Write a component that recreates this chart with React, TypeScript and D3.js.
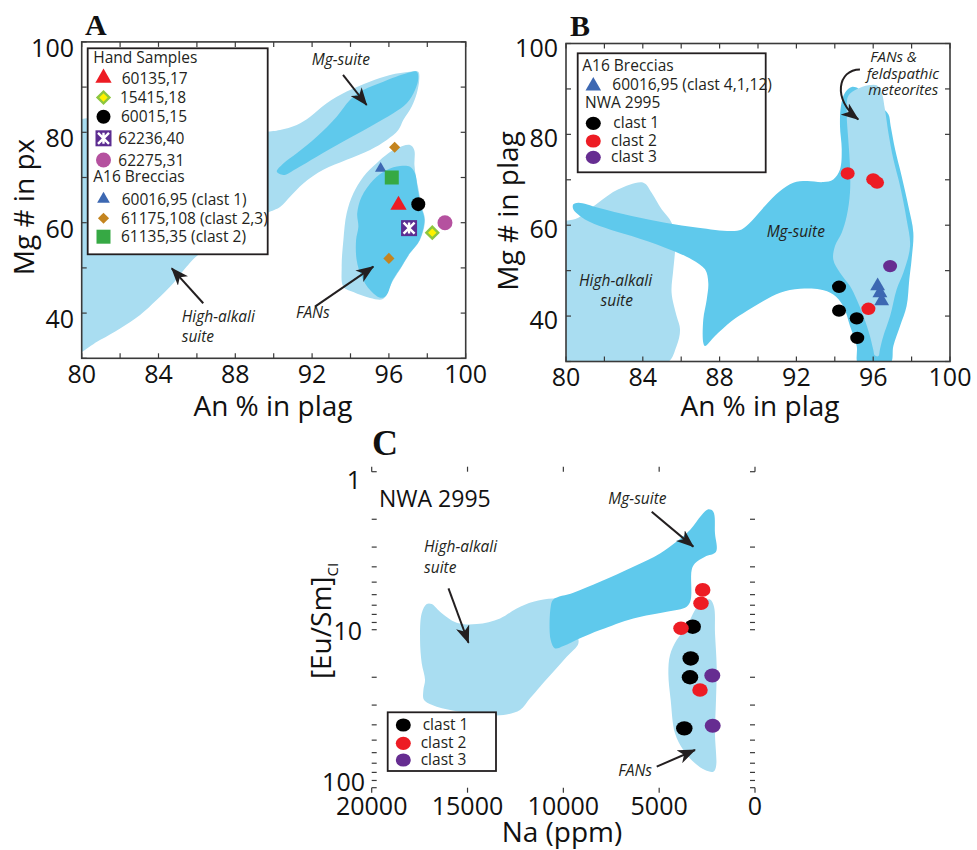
import React from 'react';
import * as d3 from 'd3';

type XY = [number, number];

const FONT = '"Open Sans", "Noto Sans", "Liberation Sans", sans-serif';
const SERIF = '"Liberation Serif", "DejaVu Serif", serif';
const INK = '#231f20';
const LIGHT = '#a9ddf1';
const DARK = '#5fc9ec';

// ---------------- Panel A : Mg# in px vs An % in plag ----------------
const aXLabels = [80, 84, 88, 92, 96, 100];
const aYLabels = [40, 60, 80, 100];

// high-alkali swath merged with the light Mg-suite envelope
const aHighAlkaliField: XY[] = [
  [79.3, 81.3], [85, 80.8], [89.55, 80.13], [90.33, 80.5], [91.2, 81.6], [91.9, 83.45],
  [92.76, 86.4], [93.8, 89.0], [95.0, 91.2], [96.06, 92.7], [97.1, 93.4], [97.53, 93.4],
  [97.58, 91.6], [97.45, 88.6], [97.19, 85.7], [96.75, 82.7], [96.49, 80.5], [95.89, 78.3],
  [95.02, 76.1], [93.8, 73.9], [92.58, 71.7], [91.54, 68.7], [90.85, 65.75], [90.33, 63.5],
  [89.64, 62.1], [86.16, 53.2], [85.47, 50.3], [84.77, 46.6], [83.9, 42.9], [83.04, 39.6],
  [82.0, 36.6], [80.95, 34.05], [79.3, 30.8],
];
const aMgSuiteCore: XY[] = [
  [90.16, 71.3], [90.5, 73.1], [91.2, 75.35], [92.24, 79.0], [93.28, 83.45], [93.97, 87.15],
  [94.67, 89.36], [95.71, 91.2], [96.93, 93.05], [97.45, 93.4], [97.53, 91.95], [97.36, 89.36],
  [96.93, 86.4], [96.23, 84.2], [95.02, 81.24], [93.6, 77.9], [92.24, 74.6], [91.2, 72.0],
  [90.5, 70.55],
];
const aFanField: XY[] = [
  [96.41, 76.46], [97.1, 77.19], [97.32, 76.1], [97.33, 72.77], [97.41, 70.1], [97.53, 67.66],
  [97.71, 63.54], [97.88, 60.6], [97.62, 56.2], [97.1, 53.23], [96.67, 50.27], [96.23, 47.3],
  [95.97, 45.1], [95.69, 43.1], [95.02, 43.35], [94.15, 44.67], [93.63, 45.84], [93.54, 50.27],
  [93.63, 56.2], [93.8, 62.08], [94.15, 66.5], [94.67, 70.18], [95.36, 73.14], [95.97, 75.35],
];
const aFanCore: XY[] = [
  [95.19, 69.45], [95.89, 71.66], [96.58, 72.54], [97.1, 72.39], [97.36, 70.93], [97.5, 67.5],
  [97.68, 63.54], [97.85, 60.6], [97.6, 56.2], [97.08, 53.23], [96.65, 50.27], [96.2, 47.3],
  [95.85, 43.8], [95.54, 43.4], [95.02, 45.1], [94.58, 48.05], [94.32, 51.75], [94.29, 56.2],
  [94.41, 59.12], [94.35, 62.08], [94.58, 65.75],
];

const a60135_17: XY[] = [[96.5, 63.9]];
const a15415_18: XY[] = [[98.26, 57.8]];
const a60015_15: XY[] = [[97.53, 64.1]];
const a62236_40: XY[] = [[97.05, 58.8]];
const a62275_31: XY[] = [[98.92, 60.0]];
const a60016_95: XY[] = [[95.57, 72.0]];
const a61175_108: XY[] = [[96.3, 76.7], [96.0, 52.1]];
const a61135_35: XY[] = [[96.15, 70.0]];

// ---------------- Panel B : Mg# in plag vs An % in plag ----------------
const bXLabels = [80, 84, 88, 92, 96, 100];
const bYLabels = [40, 60, 80, 100];

const bHighAlkaliField: XY[] = [
  [79.5, 59.8], [80.64, 61.65], [81.68, 64.95], [82.73, 67.9], [84.03, 69.36], [84.46, 67.16],
  [84.98, 63.49], [85.5, 60.55], [85.68, 55.4], [85.59, 50.28], [85.5, 45.14], [85.76, 40.0],
  [85.94, 37.06], [85.76, 33.4], [85.2, 29.5], [79.5, 29.5],
];
const bMgSuiteField: XY[] = [
  [80.38, 64.59], [80.64, 64.95], [81.68, 63.85], [83.42, 62.02], [85.16, 60.55], [86.89, 59.45],
  [88.63, 58.72], [89.15, 59.08], [89.67, 60.92], [90.36, 64.22], [91.15, 67.52], [91.84, 69.36],
  [92.53, 69.72], [93.4, 69.5], [93.92, 70.09], [94.27, 72.29], [94.36, 76.7], [94.27, 81.83],
  [94.32, 86.24], [94.53, 89.17], [94.88, 90.42], [95.23, 90.06], [95.49, 88.44], [96.35, 86.24],
  [96.79, 84.4], [96.91, 81.83], [97.14, 76.7], [97.48, 70.83], [97.83, 64.22], [98.09, 58.35],
  [98.0, 52.48], [97.88, 48.07], [97.74, 42.2], [97.4, 37.8], [97.05, 33.39], [96.88, 29.5],
  [95.23, 29.5], [95.14, 33.39], [94.79, 37.8], [94.44, 42.2], [93.92, 44.77], [93.23, 45.87],
  [92.19, 46.0], [91.15, 45.14], [90.28, 43.3], [89.41, 41.1], [88.63, 38.9], [87.76, 35.6],
  [87.24, 33.39], [87.15, 34.13], [87.15, 39.27], [87.33, 43.67], [87.41, 47.34], [87.24, 50.28],
  [86.55, 52.48], [85.16, 55.05], [83.42, 57.61], [82.03, 59.45], [80.99, 61.28], [80.38, 63.49],
];
const bFanField: XY[] = [
  [94.7, 88.44], [95.14, 89.91], [95.75, 90.79], [96.18, 90.79], [96.44, 89.17], [96.61, 85.5],
  [96.79, 80.37], [97.05, 74.5], [97.4, 68.62], [97.74, 61.28], [97.92, 55.41], [97.57, 49.54],
  [97.22, 45.87], [96.88, 40.0], [96.53, 35.6], [96.35, 32.66], [96.27, 31.19], [96.09, 31.3],
  [96.0, 32.66], [95.83, 35.6], [95.49, 40.0], [95.14, 43.67], [94.79, 46.61], [94.27, 49.54],
  [93.92, 52.48], [94.01, 55.41], [94.36, 58.35], [94.62, 62.02], [94.79, 67.16], [94.79, 73.03],
  [94.7, 78.9], [94.62, 84.77],
];

const b60016_95: XY[] = [[96.23, 46.6], [96.35, 45.1], [96.44, 43.3]];
const bClast1: XY[] = [[94.22, 46.45], [94.22, 41.2], [95.14, 39.5], [95.17, 35.2]];
const bClast2: XY[] = [[94.67, 71.4], [96.0, 70.1], [96.2, 69.4], [95.75, 41.6]];
const bClast3: XY[] = [[96.88, 51.0]];

// ---------------- Panel C : [Eu/Sm]CI vs Na (ppm) ----------------
const cXLabels = [20000, 15000, 10000, 5000, 0];
const cYLabels = [1, 10, 100];

const cHighAlkaliField: XY[] = [
  [17390, 7.88], [17129, 6.88], [16868, 6.88], [16434, 7.69], [15564, 9.03], [14521, 9.21],
  [13303, 8.48], [12434, 7.33], [11564, 6.65], [10521, 6.34], [9825, 6.49], [9304, 10.55],
  [9217, 12.21], [9825, 14.83], [10521, 18.45], [11217, 22.95], [11738, 27.2], [12260, 32.25],
  [13129, 34.68], [13999, 34.68], [15390, 33.0], [16608, 30.7], [17268, 27.87], [17303, 24.09],
  [17216, 20.83], [17390, 16.33], [17477, 11.63],
];
const cMgSuiteField: XY[] = [
  [10660, 7.15], [10521, 6.43], [9478, 5.83], [8086, 4.97], [6347, 3.99], [4956, 3.29],
  [4087, 2.77], [3391, 2.34], [2782, 1.88], [2435, 1.73], [2174, 1.79], [2087, 2.46],
  [2035, 3.21], [2609, 3.45], [3130, 3.8], [3304, 4.19], [3356, 6.49], [3565, 7.15],
  [4608, 7.69], [6347, 8.48], [8086, 10.05], [9130, 11.34], [9999, 12.69], [10434, 13.13],
  [10660, 11.63],
];
const cFanField: XY[] = [
  [4434, 14.47], [4087, 11.63], [3565, 9.57], [3130, 7.51], [2782, 6.65], [2348, 6.43],
  [2139, 7.15], [2087, 10.55], [2000, 17.15], [2035, 27.87], [2087, 45.3], [2035, 73.6],
  [2174, 79.2], [2609, 77.3], [3130, 70.1], [3739, 57.8], [4174, 45.3], [4400, 27.87],
  [4521, 18.9],
];

const cClast1: XY[] = [[3251, 9.57], [3355, 15.2], [3392, 20.0], [3689, 42.1]];
const cClast2: XY[] = [[2729, 5.6], [2818, 6.8], [3861, 9.8], [2870, 24.1]];
const cClast3: XY[] = [[2228, 19.5], [2207, 40.5]];

// ---------------- scales ----------------
const xA = d3.scaleLinear().domain([80, 100]).range([81.7, 465.7]);
const yA = d3.scaleLinear().domain([30, 100]).range([358.3, 41.9]);
const xB = d3.scaleLinear().domain([80, 100]).range([566, 950]);
const yB = d3.scaleLinear().domain([30, 100]).range([361.5, 43.5]);
const xC = d3.scaleLinear().domain([20000, 0]).range([371.7, 755]);
const yC = d3.scaleLog().domain([1, 100]).range([471.7, 787.7]);

type Mk = { shape: 'circle' | 'triangle' | 'square' | 'diamond' | 'star'; fill: string; size: number; ry?: number; stroke?: string; sw?: number };

const mkRed: Mk = { shape: 'triangle', fill: '#ed1c24', size: 115 };
const mkYellow: Mk = { shape: 'diamond', fill: '#fff200', stroke: '#8dc63f', sw: 2.4, size: 70 };
const mkBlack: Mk = { shape: 'circle', fill: '#000', size: 14 };
const mkStar: Mk = { shape: 'star', fill: '#5c2d91', size: 16 };
const mkPink: Mk = { shape: 'circle', fill: '#b5519f', size: 15 };
const mkBlueSmall: Mk = { shape: 'triangle', fill: '#3d68b2', size: 55 };
const mkBrown: Mk = { shape: 'diamond', fill: '#c4841f', size: 62 };
const mkGreen: Mk = { shape: 'square', fill: '#36a944', size: 196 };
const mkBlue: Mk = { shape: 'triangle', fill: '#3d68b2', size: 95 };
const mkC1: Mk = { shape: 'circle', fill: '#000', size: 15, ry: 6.6 };
const mkC2: Mk = { shape: 'circle', fill: '#ed1c24', size: 15, ry: 6.6 };
const mkC3: Mk = { shape: 'circle', fill: '#662d91', size: 15, ry: 6.6 };

function Mark({ m, cx, cy }: { m: Mk; cx: number; cy: number }) {
  const t = `translate(${cx},${cy})`;
  if (m.shape === 'circle') return <ellipse cx={cx} cy={cy} rx={m.size / 2} ry={m.ry ?? m.size / 2} fill={m.fill} />;
  if (m.shape === 'triangle') return <path transform={t} d={d3.symbol(d3.symbolTriangle, m.size)() || ''} fill={m.fill} />;
  if (m.shape === 'square') return <path transform={t} d={d3.symbol(d3.symbolSquare, m.size)() || ''} fill={m.fill} />;
  if (m.shape === 'diamond')
    return <path transform={`${t} rotate(45)`} d={d3.symbol(d3.symbolSquare, m.size)() || ''} fill={m.fill} stroke={m.stroke} strokeWidth={m.sw} />;
  const h = m.size / 2;
  const k = h - 2.5;
  return (
    <g transform={t}>
      <rect x={-h} y={-h} width={m.size} height={m.size} fill={m.fill} />
      <path d={`M0,${-k}V${k}M${-k},${-k}L${k},${k}M${-k},${k}L${k},${-k}`} stroke="#fff" strokeWidth={2.4} />
    </g>
  );
}

function Field({ pts, x, y, fill }: { pts: XY[]; x: any; y: any; fill: string }) {
  const line = d3.line<XY>().x(d => x(d[0])).y(d => y(d[1])).curve(d3.curveCatmullRomClosed.alpha(0.5));
  return <path d={line(pts) || ''} fill={fill} />;
}

function Points({ pts, x, y, m }: { pts: XY[]; x: any; y: any; m: Mk }) {
  return <g>{pts.map((p, i) => <Mark key={i} m={m} cx={x(p[0])} cy={y(p[1])} />)}</g>;
}

function Frame({ x, y, xt, yt, len = 5 }: { x: any; y: any; xt: number[]; yt: number[]; len?: number }) {
  const [l, r] = x.range();
  const [b, t] = y.range();
  return (
    <g stroke="#3a3a3a" strokeWidth={1.2}>
      {xt.map(v => (
        <g key={'x' + v}>
          <line x1={x(v)} x2={x(v)} y1={b} y2={b - len} />
          <line x1={x(v)} x2={x(v)} y1={t} y2={t + len} />
        </g>
      ))}
      {yt.map(v => (
        <g key={'y' + v}>
          <line x1={l} x2={l + len} y1={y(v)} y2={y(v)} />
          <line x1={r} x2={r - len} y1={y(v)} y2={y(v)} />
        </g>
      ))}
      <rect x={l} y={t} width={r - l} height={b - t} fill="none" strokeWidth={1.6} />
    </g>
  );
}

function Arrow({ d }: { d: string }) {
  return <path d={d} fill="none" stroke={INK} strokeWidth={2} markerEnd="url(#head)" />;
}

const seg = (x: any, y: any, p: XY[]) => `M${x(p[0][0])},${y(p[0][1])}L${x(p[1][0])},${y(p[1][1])}`;

function Note({ x, y, text, size = 15.5 }: { x: number; y: number; text: string; size?: number }) {
  return (
    <text x={x} y={y} fontSize={size} fontStyle="italic" fill={INK} fontFamily={FONT}>
      {text}
    </text>
  );
}

function PanelA() {
  const legendRows: [Mk, string, number, number][] = [
    [mkRed, '60135,17', 78, 121.7],
    [mkYellow, '15415,18', 97.5, 120],
    [mkBlack, '60015,15', 116.7, 121],
    [mkStar, '62236,40', 138.3, 118.3],
    [mkPink, '62275,31', 160, 118.3],
    [{ ...mkBlueSmall, size: 70 }, '60016,95 (clast 1)', 199, 121.7],
    [mkBrown, '61175,108 (clast 2,3)', 218.3, 121],
    [mkGreen, '61135,35 (clast 2)', 236.7, 121],
  ];
  return (
    <g>
      <defs>
        <clipPath id="clipA"><rect x={81.7} y={41.9} width={384} height={316.4} /></clipPath>
      </defs>
      <g clipPath="url(#clipA)">
        <Field pts={aHighAlkaliField} x={xA} y={yA} fill={LIGHT} />
        <Field pts={aMgSuiteCore} x={xA} y={yA} fill={DARK} />
        <Field pts={aFanField} x={xA} y={yA} fill={LIGHT} />
        <Field pts={aFanCore} x={xA} y={yA} fill={DARK} />
      </g>
      <Points pts={a60016_95} x={xA} y={yA} m={mkBlueSmall} />
      <Points pts={a61175_108} x={xA} y={yA} m={mkBrown} />
      <Points pts={a61135_35} x={xA} y={yA} m={mkGreen} />
      <Points pts={a60135_17} x={xA} y={yA} m={mkRed} />
      <Points pts={a60015_15} x={xA} y={yA} m={mkBlack} />
      <Points pts={a62236_40} x={xA} y={yA} m={mkStar} />
      <Points pts={a15415_18} x={xA} y={yA} m={mkYellow} />
      <Points pts={a62275_31} x={xA} y={yA} m={mkPink} />

      <Frame x={xA} y={yA} xt={d3.range(80, 101, 2)} yt={d3.range(30, 101, 10)} />

      <Note x={xA(91.98)} y={yA(94.9)} text="Mg-suite" />
      <Note x={xA(85.21)} y={yA(38.1)} text="High-alkali" />
      <Note x={xA(85.21)} y={yA(33.67)} text="suite" />
      <Note x={xA(91.16)} y={yA(38.92)} text="FANs" />
      <Arrow d={seg(xA, yA, [[93.61, 92.68], [94.84, 86.04]])} />
      <Arrow d={seg(xA, yA, [[86.33, 42.17], [84.69, 49.9]])} />
      <Arrow d={seg(xA, yA, [[92.15, 41.42], [95.19, 50.27]])} />

      {/* legend */}
      <rect x={87.7} y={48.3} width={180} height={206} fill="#fff" stroke={INK} strokeWidth={1.8} />
      <g fontFamily={FONT} fontSize={15.5} fill={INK}>
        <text x={93.3} y={63.3}>Hand Samples</text>
        <text x={93.3} y={182.3}>A16 Breccias</text>
        {legendRows.map(([m, label, cy, tx]) => (
          <g key={label}>
            <Mark m={m} cx={103.5} cy={cy} />
            <text x={tx} y={cy + 5.6}>{label}</text>
          </g>
        ))}
      </g>

      {/* axes text */}
      <g fontFamily={FONT} fontSize={25} fill="#111">
        {aXLabels.map(v => <text key={v} x={xA(v)} y={383} textAnchor="middle">{v}</text>)}
        {aYLabels.map(v => <text key={v} x={74} y={yA(v) + 15} textAnchor="end">{v}</text>)}
        <text x={273} y={416} textAnchor="middle" fontSize={28}>An % in plag</text>
        <text transform="translate(34,207) rotate(-90)" textAnchor="middle" fontSize={28}>Mg # in px</text>
      </g>
      <text x={85} y={35} fontFamily={SERIF} fontWeight="bold" fontSize={30} fill="#111">A</text>
    </g>
  );
}

function PanelB() {
  const p = d3.path();
  p.moveTo(xB(95.31), yB(94.3));
  p.bezierCurveTo(xB(94.16), yB(94.3), xB(93.85), yB(87.7), xB(95.22), yB(83.3));
  return (
    <g>
      <defs>
        <clipPath id="clipB"><rect x={566} y={43.5} width={384} height={318} /></clipPath>
      </defs>
      <g clipPath="url(#clipB)">
        <Field pts={bHighAlkaliField} x={xB} y={yB} fill={LIGHT} />
        <Field pts={bMgSuiteField} x={xB} y={yB} fill={DARK} />
        <Field pts={bFanField} x={xB} y={yB} fill={LIGHT} />
      </g>
      <Points pts={b60016_95} x={xB} y={yB} m={mkBlue} />
      <Points pts={bClast1} x={xB} y={yB} m={{ ...mkC1, size: 14, ry: 6.2 }} />
      <Points pts={bClast2} x={xB} y={yB} m={{ ...mkC2, size: 14, ry: 6.2 }} />
      <Points pts={bClast3} x={xB} y={yB} m={{ ...mkC3, size: 14, ry: 6.2 }} />

      <Frame x={xB} y={yB} xt={d3.range(80, 101, 2)} yt={d3.range(30, 101, 10)} />

      <Note x={xB(95.85)} y={yB(96.0)} text="FANs &" size={15} />
      <Note x={xB(95.66)} y={yB(92.2)} text="feldspathic" size={15} />
      <Note x={xB(95.74)} y={yB(88.6)} text="meteorites" size={15} />
      <Arrow d={p.toString()} />
      <Note x={xB(90.45)} y={yB(57.5)} text="Mg-suite" />
      <Note x={xB(80.68)} y={yB(46.6)} text="High-alkali" />
      <Note x={xB(81.8)} y={yB(42.2)} text="suite" />

      {/* legend */}
      <rect x={577.7} y={53.3} width={188} height={119} fill="#fff" stroke={INK} strokeWidth={1.8} />
      <g fontFamily={FONT} fontSize={15.5} fill={INK}>
        <text x={582.3} y={71}>A16 Breccias</text>
        <Mark m={{ ...mkBlue, size: 105 }} cx={593.3} cy={86} />
        <text x={612.3} y={90}>60016,95 (clast 4,1,12)</text>
        <text x={585} y={107.7}>NWA 2995</text>
        <Mark m={mkC1} cx={593.3} cy={123.3} />
        <text x={613.3} y={128.3}>clast 1</text>
        <Mark m={mkC2} cx={593.3} cy={141} />
        <text x={611} y={146}>clast 2</text>
        <Mark m={mkC3} cx={593.3} cy={157.3} />
        <text x={611} y={162.3}>clast 3</text>
      </g>

      <g fontFamily={FONT} fontSize={25} fill="#111">
        {bXLabels.map(v => <text key={v} x={xB(v)} y={386} textAnchor="middle">{v}</text>)}
        {bYLabels.map(v => <text key={v} x={558} y={yB(v) + 13} textAnchor="end">{v}</text>)}
        <text x={760} y={416} textAnchor="middle" fontSize={28}>An % in plag</text>
        <text transform="translate(518,211) rotate(-90)" textAnchor="middle" fontSize={28}>Mg # in plag</text>
      </g>
      <text x={570} y={36} fontFamily={SERIF} fontWeight="bold" fontSize={30} fill="#111">B</text>
    </g>
  );
}

function PanelC() {
  const yLabelPos: Record<number, [number, number]> = { 1: [361, 489], 10: [362, 640], 100: [365, 791] };
  return (
    <g>
      <defs>
        <clipPath id="clipC"><rect x={371.7} y={471.7} width={383.3} height={316} /></clipPath>
      </defs>
      <g clipPath="url(#clipC)">
        <Field pts={cHighAlkaliField} x={xC} y={yC} fill={LIGHT} />
        <Field pts={cMgSuiteField} x={xC} y={yC} fill={DARK} />
        <Field pts={cFanField} x={xC} y={yC} fill={LIGHT} />
      </g>
      <Points pts={cClast1} x={xC} y={yC} m={{ ...mkC1, size: 16.5, ry: 7.2 }} />
      <Points pts={cClast2} x={xC} y={yC} m={{ ...mkC2, size: 15.5, ry: 6.8 }} />
      <Points pts={cClast3} x={xC} y={yC} m={{ ...mkC3, size: 16, ry: 7 }} />

      <Frame x={xC} y={yC} xt={d3.range(0, 20001, 5000)} yt={yC.ticks()} />

      <text x={xC(19617)} y={yC(1.665)} fontFamily={FONT} fontSize={23} fill="#111">NWA 2995</text>
      <Note x={xC(7655)} y={yC(1.6)} text="Mg-suite" />
      <Note x={xC(17270)} y={yC(3.21)} text="High-alkali" />
      <Note x={xC(17270)} y={yC(4.36)} text="suite" />
      <Note x={xC(7133)} y={yC(84.3)} text="FANs" />
      <Arrow d={seg(xC, yC, [[5390, 1.79], [3220, 2.98]])} />
      <Arrow d={seg(xC, yC, [[15994, 5.47], [14950, 12.1]])} />
      <Arrow d={seg(xC, yC, [[5129, 73.6], [3131, 57.7]])} />

      {/* legend */}
      <rect x={387.7} y={712.3} width={108.3} height={58.7} fill="#fff" stroke={INK} strokeWidth={1.8} />
      <g fontFamily={FONT} fontSize={15.5} fill={INK}>
        <Mark m={mkC1} cx={403.3} cy={725} />
        <text x={422.7} y={730}>clast 1</text>
        <Mark m={mkC2} cx={403.3} cy={743.3} />
        <text x={420.7} y={748.3}>clast 2</text>
        <Mark m={mkC3} cx={403.3} cy={760} />
        <text x={420.7} y={765}>clast 3</text>
      </g>

      <g fontFamily={FONT} fontSize={25} fill="#111">
        {cXLabels.map(v => <text key={v} x={xC(v)} y={815} textAnchor="middle">{v}</text>)}
        {cYLabels.map(v => <text key={v} x={yLabelPos[v][0]} y={yLabelPos[v][1]} textAnchor="end">{v}</text>)}
        <text x={562} y={842} textAnchor="middle" fontSize={28}>Na (ppm)</text>
        <text transform="translate(331,621) rotate(-90)" textAnchor="middle" fontSize={28}>
          [Eu/Sm]<tspan fontSize={15} dy={7}>CI</tspan>
        </text>
      </g>
      <text x={372} y={455} fontFamily={SERIF} fontWeight="bold" fontSize={36} fill="#111">C</text>
    </g>
  );
}

export default function App() {
  return (
    <svg width={977} height={850} style={{ position: 'absolute', left: 0, top: 0, background: '#fff' }}>
      <defs>
        <marker id="head" viewBox="0 0 18 14" refX={17} refY={7} markerWidth={18} markerHeight={14} markerUnits="userSpaceOnUse" orient="auto">
          <path d="M0,0 L18,7 L0,14 L5,7 Z" fill={INK} />
        </marker>
      </defs>
      <PanelA />
      <PanelB />
      <PanelC />
    </svg>
  );
}
